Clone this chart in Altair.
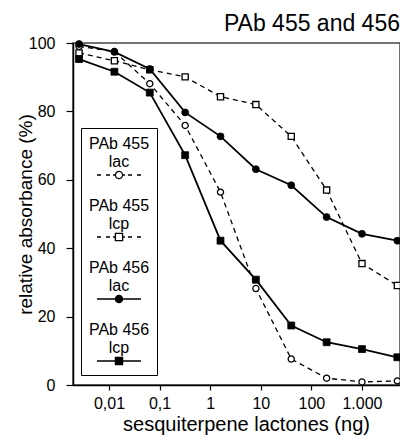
import altair as alt
import pandas as pd

# ---- data ----
conc = [0.00256, 0.0128, 0.064, 0.32, 1.6, 8, 40, 200, 1000, 5000]
pab455_lac = [99.0, 97.5, 88.1, 75.9, 56.4, 28.2, 7.6, 2.0, 0.9, 1.2]
pab455_lcp = [97.1, 94.8, 92.2, 90.1, 84.3, 82.0, 72.7, 57.0, 35.5, 29.1]
pab456_lac = [99.7, 97.4, 92.4, 79.7, 72.7, 63.1, 58.4, 49.1, 44.2, 42.2]
pab456_lcp = [95.3, 91.6, 85.5, 67.2, 42.2, 30.8, 17.4, 12.5, 10.5, 8.1]

series_names = ["PAb 455|lac", "PAb 455|lcp", "PAb 456|lac", "PAb 456|lcp"]
series_values = [pab455_lac, pab455_lcp, pab456_lac, pab456_lcp]
series_dashed = [True, True, False, False]
series_shape = ["circle", "square", "circle", "square"]
series_filled = [False, False, True, True]

xtick_vals = [0.01, 0.1, 1, 10, 100, 1000]
xtick_labels = ["0,01", "0,1", "1", "10", "100", "1.000"]
ytick_vals = [0, 20, 40, 60, 80, 100]

FONT = "Liberation Sans"

rows = []
for name, vals in zip(series_names, series_values):
    for c, v in zip(conc, vals):
        rows.append({"series": name, "conc": c, "val": v})
df = pd.DataFrame(rows)

xscale = alt.Scale(type="log", domain=[0.001945, 5640], nice=False)
yscale = alt.Scale(domain=[0, 100], nice=False)

label_expr = "[" + ",".join(f"'{l}'" for l in xtick_labels) + "][round(log(datum.value)/LN10)+2]"

xaxis = alt.Axis(values=xtick_vals, labelExpr=label_expr, title="sesquiterpene lactones (ng)",
                 grid=False, tickSize=5, labelPadding=5,
                 labelFontSize=16, titleFontSize=20, titleFontWeight="normal",
                 labelFont=FONT, titleFont=FONT, labelColor="black", titleColor="black",
                 domainColor="black", tickColor="black", domainWidth=1.5, tickWidth=1.2,
                 labelFlush=False, titleX=173, titleY=45, titleBaseline="alphabetic")
yaxis = alt.Axis(values=ytick_vals, title="relative absorbance (%)", grid=False,
                 tickSize=7, labelPadding=11,
                 labelFontSize=16, titleFontSize=19, titleFontWeight="normal",
                 labelFont=FONT, titleFont=FONT, labelColor="black", titleColor="black",
                 domainColor="black", tickColor="black", domainWidth=1.5, tickWidth=1.2,
                 labelFlush=False, titleX=-48, titleBaseline="middle")

base = alt.Chart(df)
layers = []
# lines
for i, name in enumerate(series_names):
    kw = dict(color="black", strokeWidth=1.3 if series_dashed[i] else 1.8)
    if series_dashed[i]:
        kw["strokeDash"] = [5, 4]
    ln = base.transform_filter(alt.datum.series == name).mark_line(**kw).encode(
        x=alt.X("conc:Q", scale=xscale, axis=xaxis),
        y=alt.Y("val:Q", scale=yscale, axis=yaxis),
    )
    layers.append(ln)
# markers
for i, name in enumerate(series_names):
    if series_filled[i]:
        mk = dict(shape=series_shape[i], filled=True, fill="black", stroke="black",
                  strokeWidth=0.8, size=48, opacity=1)
    else:
        mk = dict(shape=series_shape[i], filled=True, fill="white", stroke="black",
                  strokeWidth=1.3, size=38, opacity=1)
    pt = base.transform_filter(alt.datum.series == name).mark_point(**mk).encode(
        x=alt.X("conc:Q", scale=xscale, axis=xaxis),
        y=alt.Y("val:Q", scale=yscale, axis=yaxis),
    )
    layers.append(pt)

# legend symbols: custom paths (line + marker drawn below the label)
S = 8.0      # px per path unit (symbolSize = (2*S)^2)
DX = 22.0    # px shift so the symbol sits under the label centre
DY = 31.0    # px shift so the symbol sits below the two label lines
R = 3.6


def P(x, y):
    return f"{(x + DX) / S:.3f},{(y + DY) / S:.3f}"


def sym_path(dashed, shape):
    r = R
    if dashed:
        segs = [(-22, -18), (-13, -9), (-6, -r), (r, 6), (9, 13), (18, 22)]
    else:
        segs = [(-22, -r), (r, 22)]
    p = "".join(f"M{P(a, 0)}L{P(b, 0)}" for a, b in segs)
    if shape == "circle":
        rr = f"{r / S:.3f}"
        p += f"M{P(-r, 0)}A{rr},{rr} 0 1,1 {P(r, 0)}A{rr},{rr} 0 1,1 {P(-r, 0)}Z"
    else:
        p += f"M{P(-r, -r)}L{P(r, -r)}L{P(r, r)}L{P(-r, r)}Z"
    return p


legend_paths = [sym_path(d, s) for d, s in zip(series_dashed, series_shape)]
legend_fills = ["black" if f else "white" for f in series_filled]
legend_strokes = ["black"] * len(series_names)

legend = alt.Legend(title=None, orient="none", legendX=8, legendY=85,
                    direction="vertical", symbolSize=(2 * S) ** 2, symbolOpacity=1,
                    symbolStrokeColor="black", symbolStrokeWidth=1.3,
                    labelAlign="center", labelBaseline="middle", labelOffset=13,
                    labelExpr="split(datum.label, '|')", labelFont=FONT, labelFontSize=16,
                    labelColor="black", labelLimit=0,
                    strokeColor="black", fillColor="white", padding=7, rowPadding=15)

leg_layer = base.mark_point(filled=True, opacity=0, strokeWidth=1.3).encode(
    x=alt.X("conc:Q", scale=xscale, axis=xaxis),
    y=alt.Y("val:Q", scale=yscale, axis=yaxis),
    shape=alt.Shape("series:N", scale=alt.Scale(domain=series_names, range=legend_paths), legend=legend),
    fill=alt.Fill("series:N", scale=alt.Scale(domain=series_names, range=legend_fills), legend=legend),
    stroke=alt.Stroke("series:N", scale=alt.Scale(domain=series_names, range=legend_strokes), legend=legend),
)
layers.append(leg_layer)

chart = alt.layer(*layers).properties(
    width=327, height=342,
    title=alt.TitleParams("PAb 455 and 456", anchor="end", fontSize=23, fontWeight="normal",
                          font=FONT, color="black", offset=8, dy=9, frame="group"),
    autosize=alt.AutoSizeParams(type="none"),
    padding={"left": 65, "top": 35, "right": 0, "bottom": 50},
).configure_view(stroke="#444", strokeWidth=1.5)

chart.save("out.html", embed_options={"renderer": "svg", "actions": False})
